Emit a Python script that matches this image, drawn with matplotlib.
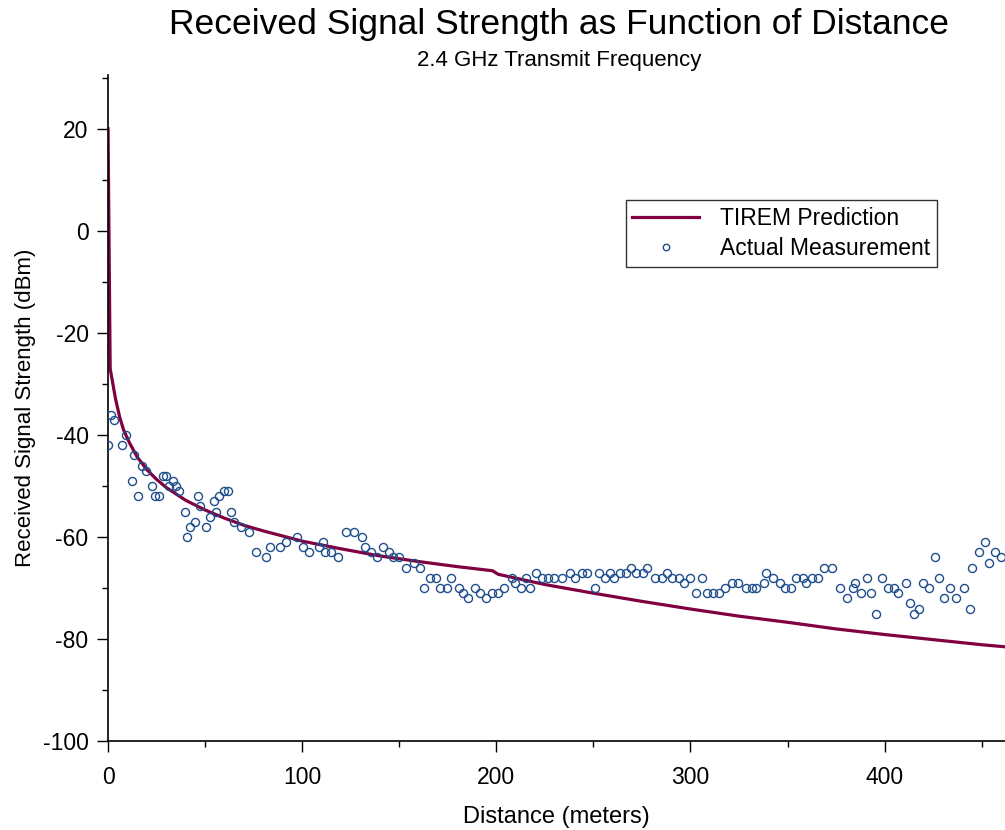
import matplotlib.pyplot as plt
from matplotlib.ticker import MultipleLocator

plt.rcParams['font.family'] = ['Liberation Sans', 'DejaVu Sans']
plt.rcParams['axes.unicode_minus'] = False

# TIREM prediction
tirem_d = [0, 1.1, 3.9, 6, 8, 11, 15, 20, 25, 30, 40, 50, 60, 70, 80, 90, 100,
           120, 140, 160, 180, 198, 201, 225, 250, 275, 300, 325, 350, 375,
           400, 425, 450, 462]
tirem_db = [20, -27, -33, -36.5, -39, -41.5, -44.3, -46.8, -48.7, -50.3, -52.8,
            -54.7, -56.3, -57.7, -58.8, -59.8, -60.8, -62.3, -63.7, -64.8,
            -65.8, -66.6, -67.3, -69.3, -71.0, -72.6, -74.1, -75.5, -76.7,
            -78.0, -79.1, -80.1, -81.1, -81.5]

# measured points
meas_d = [0, 1.3, 3.3, 7.3, 9.4, 12.3, 13.3, 15.6, 17.3, 19.3, 22.4, 24.1, 26.5,
          28.2, 30.0, 31.2, 33.4, 34.8, 36.5, 39.6, 40.5, 42.3, 44.6, 46.5, 47.5,
          50.6, 52.3, 54.5, 55.7, 57.4, 59.5, 61.6, 63.5, 64.7, 68.4, 72.5,
          76.4, 81.5, 83.6, 88.4, 91.8, 97.5, 100.4, 103.5, 108.6, 110.7, 111.5,
          114.6, 118.6, 122.4, 126.6, 130.6, 132.5, 135.6, 138.7, 141.6, 144.7,
          146.7, 149.8, 153.6, 157.4, 160.5, 162.5, 165.6, 168.7, 171.2, 174.5,
          176.5, 180.6, 182.6, 185.6, 188.8, 191.4, 194.5, 197.6, 200.7, 203.8,
          207.9, 209.6, 212.7, 215.5, 217.5, 220.6, 223.7, 226.6, 229.7, 233.8,
          237.8, 240.7, 244.3, 246.9, 250.8, 252.9, 255.8, 258.7, 260.6, 263.5,
          266.6, 269.5, 272.1, 275.5, 277.8, 281.9, 285.5, 287.9, 290.7, 294.1,
          296.6, 299.6, 302.7, 305.8, 308.5, 311.6, 314.7, 317.6, 321.6, 324.7,
          328.8, 331.9, 334.0, 337.7, 338.7, 342.5, 345.9, 348.9, 351.8, 354.6,
          358.0, 359.7, 362.8, 365.9, 368.8, 372.7, 376.9, 380.8, 383.7, 384.9,
          387.7, 390.8, 392.8, 395.8, 398.9, 401.8, 404.8, 406.8, 410.9, 413.0,
          415.0, 417.9, 419.8, 422.8, 425.9, 427.9, 430.8, 433.9, 436.8, 440.8,
          443.9, 445.1, 448.8, 451.9, 453.8, 457.1, 459.8]
meas_db = [-42, -36, -37, -42, -40, -49, -44, -52, -46, -47, -50, -52, -52,
           -48, -48, -50, -49, -50, -51, -55, -60, -58, -57, -52, -54,
           -58, -56, -53, -55, -52, -51, -51, -55, -57, -58, -59,
           -63, -64, -62, -62, -61, -60, -62, -63, -62, -61, -63,
           -63, -64, -59, -59, -60, -62, -63, -64, -62, -63,
           -64, -64, -66, -65, -66, -70, -68, -68, -70, -70,
           -68, -70, -71, -72, -70, -71, -72, -71, -71, -70,
           -68, -69, -70, -68, -70, -67, -68, -68, -68, -68,
           -67, -68, -67, -67, -70, -67, -68, -67, -68, -67,
           -67, -66, -67, -67, -66, -68, -68, -67, -68, -68,
           -69, -68, -71, -68, -71, -71, -71, -70, -69, -69,
           -70, -70, -70, -69, -67, -68, -69, -70, -70, -68,
           -68, -69, -68, -68, -66, -66, -70, -72, -70, -69,
           -71, -68, -71, -75, -68, -70, -70, -71, -69, -73,
           -75, -74, -69, -70, -64, -68, -72, -70, -72, -70,
           -74, -66, -63, -61, -65, -63, -64]

fig = plt.figure(figsize=(10.05, 8.3), dpi=100)
ax = fig.add_axes([0.1075, 0.107, 0.8925, 0.803])

ax.plot(tirem_d, tirem_db, color='#800040', lw=2.3, label='TIREM Prediction', zorder=2)
ax.plot(meas_d, meas_db, ls='none', marker='o', ms=5.8, mfc='none', mec='#1f4e8c',
        mew=1.0, label='Actual Measurement', zorder=3)

ax.set_xlim(0, 462)
ax.set_ylim(-100, 30.6)
ax.xaxis.set_major_locator(MultipleLocator(100))
ax.xaxis.set_minor_locator(MultipleLocator(50))
ax.yaxis.set_major_locator(MultipleLocator(20))
ax.yaxis.set_minor_locator(MultipleLocator(10))
ax.tick_params(which='major', direction='out', length=8, width=1, labelsize=16.5, pad=6)
ax.tick_params(axis='x', which='major', pad=10)
ax.tick_params(which='minor', direction='out', length=4.5, width=1)
ax.spines['top'].set_visible(False)
ax.spines['right'].set_visible(False)
for s in ['left', 'bottom']:
    ax.spines[s].set_linewidth(1.2)
    ax.spines[s].set_clip_on(False)

ax.set_xlabel('Distance (meters)', fontsize=17, labelpad=12)
ax.set_ylabel('Received Signal Strength (dBm)', fontsize=16, labelpad=5)

fig.text(0.556, 0.97, 'Received Signal Strength as Function of Distance',
         ha='center', va='center', fontsize=25.5)
fig.text(0.556, 0.927, '2.4 GHz Transmit Frequency', ha='center', va='center', fontsize=16)

leg = ax.legend(loc='upper left', bbox_to_anchor=(0.577, 0.812), fontsize=16.5,
                frameon=True, fancybox=False, edgecolor='black', borderpad=0.3,
                borderaxespad=0, handlelength=2.9, handletextpad=0.9,
                labelspacing=0.3, markerscale=0.8)
leg.get_frame().set_linewidth(1.0)

fig.savefig('out.png', dpi=100)
